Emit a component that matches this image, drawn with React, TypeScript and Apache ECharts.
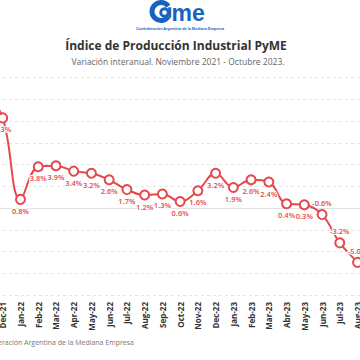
import React, { useEffect, useRef } from "react";
import * as echarts from "echarts";

const categories = [
  "Nov-21", "Dec-21", "Jan-22", "Feb-22", "Mar-22", "Apr-22", "May-22", "Jun-22",
  "Jul-22", "Aug-22", "Sep-22", "Oct-22", "Nov-22", "Dec-22", "Jan-23", "Feb-23",
  "Mar-23", "Abr-23", "May-23", "Jun-23", "Jul-23", "Aug-23", "Sep-23", "Oct-23",
];
const values = [
  10.9, 8.3, 0.8, 3.8, 3.9, 3.4, 3.2, 2.6, 1.7, 1.2, 1.3, 0.6, 1.6, 3.2, 1.9, 2.6,
  2.4, 0.4, 0.3, -0.6, -3.2, -5.0, -6.8, -6.4,
];
const yMin = -8;
const yMax = 12;
const yInterval = 2;

const titleText = "Índice de Producción Industrial PyME";
const subtitleText = "Variación interanual. Noviembre 2021 - Octubre 2023.";
const footerText = "Confederación Argentina de la Mediana Empresa";
const logoSmallText = "Confederación Argentina de la Mediana Empresa";

const RED = "#e5484d";
const BLUE = "#1763bf";

export default function App() {
  const ref = useRef<HTMLDivElement>(null);
  useEffect(() => {
    if (!ref.current) return;
    const chart = echarts.init(ref.current, null, { renderer: "svg" });
    const data = values.map((v) => ({
      value: v,
      label: { position: v < 0 ? "top" : "bottom" },
    }));
    chart.setOption({
      animation: false,
      backgroundColor: "#ffffff",
      grid: {
        left: -15,
        right: -33,
        top: 77.7,
        bottom: 65,
        containLabel: false,
        outerBoundsMode: "none",
      },
      xAxis: {
        type: "category",
        data: categories,
        boundaryGap: false,
        axisLine: { show: true, lineStyle: { color: "#e2e2e2", width: 1 } },
        axisTick: { show: false },
        axisLabel: {
          interval: 0,
          rotate: 90,
          fontSize: 8,
          fontWeight: "bold",
          color: "#333333",
          fontFamily: "Open Sans",
          margin: 7,
        },
        splitLine: { show: false },
      },
      yAxis: {
        type: "value",
        min: yMin,
        max: yMax,
        interval: yInterval,
        axisLabel: { show: false },
        axisLine: { show: false },
        axisTick: { show: false },
        splitLine: {
          show: true,
          lineStyle: { color: "#e4e4e4", type: [3, 3], width: 1 },
        },
      },
      series: [
        {
          type: "line",
          data,
          smooth: 0.4,
          symbol: "emptyCircle",
          symbolSize: 9,
          showAllSymbol: true,
          lineStyle: { color: RED, width: 2 },
          itemStyle: { color: RED, borderColor: RED, borderWidth: 2 },
          label: {
            show: true,
            distance: 2,
            formatter: (p: any) => `${Number(p.value).toFixed(1)}%`,
            color: RED,
            fontSize: 7.5,
            fontWeight: 600,
            fontFamily: "Open Sans",
            textBorderColor: "#ffffff",
            textBorderWidth: 2,
          },
        },
      ],
      graphic: [
        {
          type: "arc",
          shape: { cx: 161, cy: 11.5, r: 9, startAngle: Math.PI / 5, endAngle: -Math.PI / 5, clockwise: true },
          style: { stroke: BLUE, lineWidth: 5, fill: "none" },
        },
        {
          type: "ring",
          shape: { cx: 164.5, cy: 12.5, r: 5.2, r0: 2.3 },
          style: { fill: BLUE },
        },
        {
          type: "rect",
          shape: { x: 168.2, y: 7.3, width: 3, height: 10.4 },
          style: { fill: BLUE },
        },
        {
          type: "text",
          x: 171.5,
          y: 12.5,
          style: {
            text: "me",
            font: "bold 23px 'Liberation Sans', Arial, sans-serif",
            fill: BLUE,
            textAlign: "left",
            textVerticalAlign: "middle",
          },
        },
        {
          type: "text",
          x: 180,
          y: 29,
          style: {
            text: logoSmallText,
            font: "bold 3.8px 'Liberation Sans', Arial, sans-serif",
            fill: BLUE,
            textAlign: "center",
            textVerticalAlign: "middle",
          },
        },
        {
          type: "text",
          x: 176,
          y: 45.5,
          style: {
            text: titleText,
            font: "bold 12px 'Open Sans', sans-serif",
            fill: "#333333",
            textAlign: "center",
            textVerticalAlign: "middle",
          },
        },
        {
          type: "text",
          x: 178,
          y: 61,
          style: {
            text: subtitleText,
            font: "8.5px 'Open Sans', sans-serif",
            fill: "#666666",
            textAlign: "center",
            textVerticalAlign: "middle",
          },
        },
        {
          type: "text",
          x: 134,
          y: 342,
          style: {
            text: footerText,
            font: "7px 'Open Sans', sans-serif",
            fill: "#777777",
            textAlign: "right",
            textVerticalAlign: "middle",
          },
        },
      ],
    });
    return () => chart.dispose();
  }, []);
  return (
    <div
      ref={ref}
      style={{ position: "fixed", left: 0, top: 0, width: 360, height: 360 }}
    />
  );
}
